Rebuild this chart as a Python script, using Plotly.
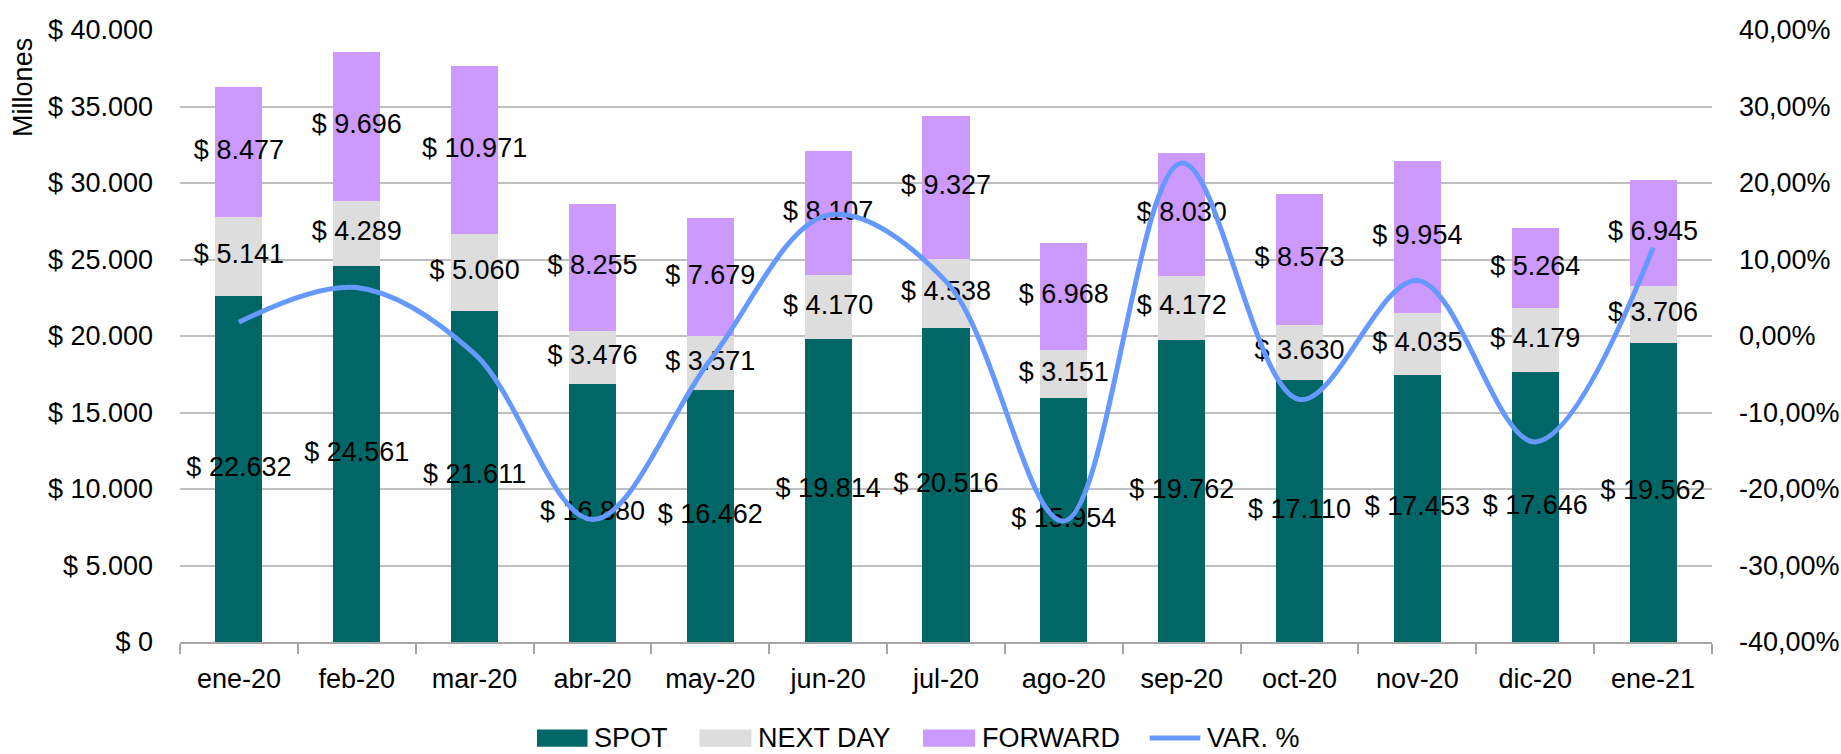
import plotly.graph_objects as go

months = ["ene-20", "feb-20", "mar-20", "abr-20", "may-20", "jun-20", "jul-20",
          "ago-20", "sep-20", "oct-20", "nov-20", "dic-20", "ene-21"]
spot = [22632, 24561, 21611, 16880, 16462, 19814, 20516, 15954, 19762, 17110, 17453, 17646, 19562]
next_day = [5141, 4289, 5060, 3476, 3571, 4170, 4538, 3151, 4172, 3630, 4035, 4179, 3706]
forward = [8477, 9696, 10971, 8255, 7679, 8107, 9327, 6968, 8030, 8573, 9954, 5264, 6945]
var_pct = [0.018, 0.0633, -0.0235, -0.2399, -0.0314, 0.158, 0.0714, -0.242, 0.226,
           -0.0829, 0.0726, -0.1384, 0.1153]

y_ticks = [0, 5000, 10000, 15000, 20000, 25000, 30000, 35000, 40000]
y_ticktext = ["$ 0", "$ 5.000", "$ 10.000", "$ 15.000", "$ 20.000", "$ 25.000",
              "$ 30.000", "$ 35.000", "$ 40.000"]
y2_ticks = [-0.4, -0.3, -0.2, -0.1, 0.0, 0.1, 0.2, 0.3, 0.4]
y2_ticktext = ["-40,00%", "-30,00%", "-20,00%", "-10,00%", "0,00%", "10,00%",
               "20,00%", "30,00%", "40,00%"]

series_names = ["SPOT", "NEXT DAY", "FORWARD", "VAR. %"]
colors = ["#006666", "#DDDDDD", "#CC99FF", "#6699FF"]

FONT = "Liberation Sans, Arial, sans-serif"
FS = 27

fig = go.Figure()
stacks = [spot, next_day, forward]
for name, vals, col in zip(series_names[:3], stacks, colors[:3]):
    fig.add_trace(go.Bar(x=months, y=vals, name=name, marker_color=col,
                         marker_line_width=0, showlegend=False, hoverinfo="skip"))

# data labels at segment midpoints
base = [0] * len(months)
for vals in stacks:
    mids = [b + v / 2 for b, v in zip(base, vals)]
    fig.add_trace(go.Scatter(x=months, y=mids, mode="text",
                             text=["$ " + f"{v:,}".replace(",", ".") for v in vals],
                             textposition="middle center",
                             textfont=dict(family=FONT, size=FS, color="black"),
                             showlegend=False, hoverinfo="skip", cliponaxis=False))
    base = [b + v for b, v in zip(base, vals)]

fig.add_trace(go.Scatter(x=months, y=var_pct, yaxis="y2", mode="lines",
                         name=series_names[3],
                         line=dict(color=colors[3], width=5, shape="spline", smoothing=1.0),
                         showlegend=False, hoverinfo="skip"))

# custom legend
leg_rects = [(0.233, 0.266), (0.339, 0.373), (0.485, 0.519)]
leg_text_x = [0.269, 0.376, 0.522, 0.669]
leg_y = -0.157
for (x0, x1), col in zip(leg_rects, colors[:3]):
    fig.add_shape(type="rect", xref="paper", yref="paper", x0=x0, x1=x1,
                  y0=leg_y - 0.014, y1=leg_y + 0.014, fillcolor=col, line_width=0)
fig.add_shape(type="line", xref="paper", yref="paper", x0=0.633, x1=0.666,
              y0=leg_y, y1=leg_y, line=dict(color=colors[3], width=5))
for tx, name in zip(leg_text_x, series_names):
    fig.add_annotation(xref="paper", yref="paper", x=tx, y=leg_y, text=name,
                       showarrow=False, xanchor="left", yanchor="middle",
                       font=dict(family=FONT, size=FS, color="black"))

fig.add_annotation(xref="paper", yref="paper", x=-0.1025, y=0.907, text="Millones",
                   textangle=-90, showarrow=False, xanchor="center", yanchor="middle",
                   font=dict(family=FONT, size=FS, color="black"))

fig.update_layout(
    width=1841, height=754,
    barmode="stack", bargap=0.6,
    plot_bgcolor="white", paper_bgcolor="white",
    margin=dict(l=180, r=129, t=30, b=112, autoexpand=False),
    font=dict(family=FONT, size=FS, color="black"),
    showlegend=False,
    xaxis=dict(type="category", range=[-0.5, len(months) - 0.5], autorange=False,
               showgrid=False, showline=True, linecolor="#A6A6A6",
               linewidth=2, ticks="outside", tickson="boundaries", ticklen=10,
               tickcolor="#A6A6A6", tickwidth=2, ticklabelstandoff=12, tickangle=0,
               automargin=False, tickfont=dict(family=FONT, size=FS)),
    yaxis=dict(range=[0, 40000], autorange=False, tickmode="array", tickvals=y_ticks,
               ticktext=y_ticktext,
               showgrid=True, gridcolor="#BFBFBF", gridwidth=2, zeroline=False,
               showline=False, ticks="", ticklabelstandoff=26, automargin=False,
               tickfont=dict(family=FONT, size=FS)),
    yaxis2=dict(range=[-0.4, 0.4], autorange=False, tickmode="array", tickvals=y2_ticks,
                ticktext=y2_ticktext,
                overlaying="y", side="right", showgrid=False, zeroline=False, showline=False,
                ticks="", ticklabelstandoff=26, automargin=False,
                tickfont=dict(family=FONT, size=FS)),
)

fig.write_html("out.html", config={"displayModeBar": False},
               post_script="document.body.style.margin='0';")
